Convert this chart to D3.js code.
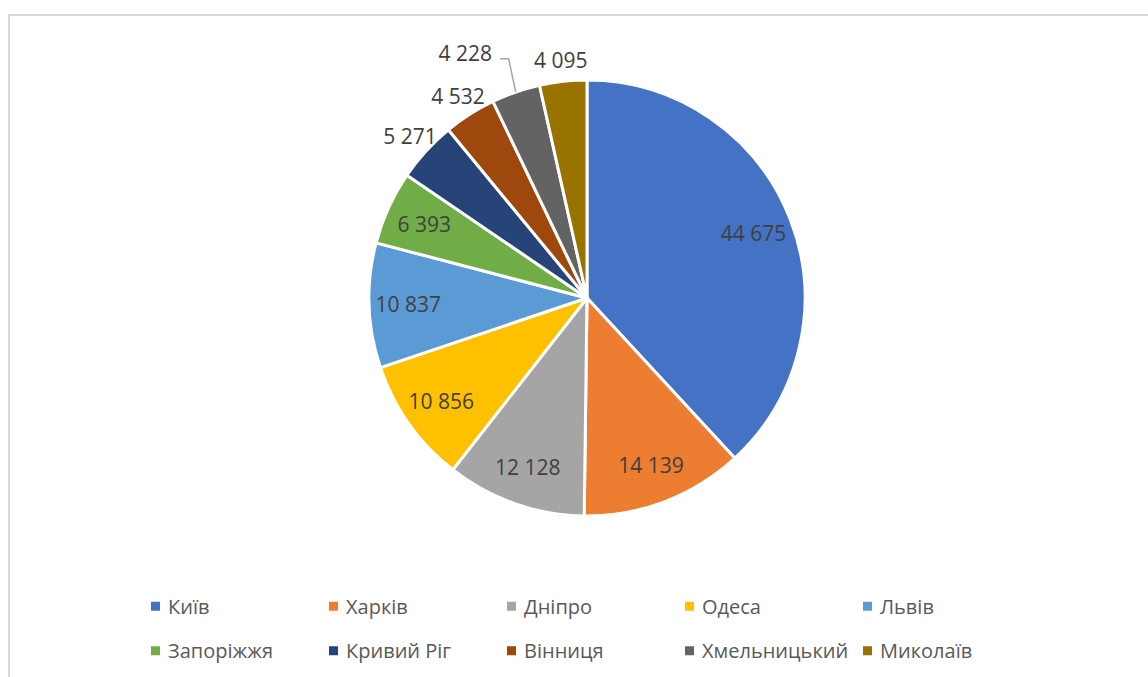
<!DOCTYPE html>
<html>
<head>
<meta charset="utf-8">
<script src="https://cdn.jsdelivr.net/npm/d3@7"></script>
<style>
  body { margin: 0; background: #fff; }
  svg text { font-family: "Open Sans", sans-serif; }
</style>
</head>
<body>
<svg id="chart" width="1148" height="677"></svg>
<script>
// city names and values
var cities = ["Київ", "Харків", "Дніпро", "Одеса", "Львів", "Запоріжжя", "Кривий Ріг", "Вінниця", "Хмельницький", "Миколаїв"];
var values = [44675, 14139, 12128, 10856, 10837, 6393, 5271, 4532, 4228, 4095];
var colors = ["#4472C4", "#ED7D31", "#A5A5A5", "#FFC000", "#5B9BD5", "#70AD47", "#264478", "#9E480E", "#636363", "#997300"];

var width = 1148, height = 677;
var cx = 587, cy = 298, radius = 218;

var svg = d3.select("#chart");

// light frame of the chart area
svg.append("rect")
    .attr("x", 9).attr("y", 15)
    .attr("width", 1300).attr("height", 900)
    .attr("fill", "none")
    .attr("stroke", "#d9d9d9")
    .attr("stroke-width", 2);

var data = cities.map(function(c, i) { return {name: c, value: values[i], color: colors[i]}; });

var pie = d3.pie().sort(null).value(function(d) { return d.value; });
var arcs = pie(data);

var arc = d3.arc().innerRadius(0).outerRadius(radius);
var labelArc = d3.arc().innerRadius(radius * 0.82).outerRadius(radius * 0.82);
var outerArc = d3.arc().innerRadius(radius * 1.1).outerRadius(radius * 1.1);
var edgeArc = d3.arc().innerRadius(radius).outerRadius(radius);

var fmt = function(v) { return d3.format(",")(v).replace(/,/g, " "); };

var g = svg.append("g").attr("transform", "translate(" + cx + "," + cy + ")");

g.selectAll("path.slice")
    .data(arcs)
  .enter().append("path")
    .attr("class", "slice")
    .attr("d", arc)
    .attr("fill", function(d) { return d.data.color; })
    .attr("stroke", "#fff")
    .attr("stroke-width", 3)
    .attr("stroke-linejoin", "round");

// data labels
var fontSize = 21;
var labels = g.append("g");
var placed = [];
arcs.forEach(function(d) {
    var t = labels.append("text")
        .attr("font-size", fontSize)
        .attr("fill", "#404040")
        .attr("text-anchor", "middle")
        .attr("dominant-baseline", "central")
        .text(fmt(d.data.value));
    var w = t.node().getComputedTextLength();
    var angle = d.endAngle - d.startAngle;
    var inside = angle * radius * 0.82 > w + 6;
    var p = inside ? labelArc.centroid(d) : outerArc.centroid(d);
    d.lbl = {node: t, x: p[0], y: p[1], w: w, h: fontSize * 1.1, inside: inside, nx: p[0], ny: p[1]};
});

// resolve overlaps of the outside labels, walking back from the last slice
var outside = arcs.filter(function(d) { return !d.lbl.inside; }).reverse();
outside.forEach(function(d, i) {
    var L = d.lbl;
    if (i > 0) {
        var prev = outside[i - 1].lbl;
        var overlapX = Math.abs(L.x - prev.x) < (L.w + prev.w) / 2 + 4;
        var overlapY = Math.abs(L.y - prev.y) < (L.h + prev.h) / 2;
        if (overlapX && overlapY) {
            L.y = prev.y - 7;
            L.x = prev.x - prev.w / 2 - 42 - L.w / 2;
            L.moved = true;
        }
    }
});

arcs.forEach(function(d) {
    var L = d.lbl;
    L.node.attr("x", L.x).attr("y", L.y);
    if (L.moved) {
        var e = edgeArc.centroid(d);
        var ly = L.y + 6;
        labels.append("polyline")
            .attr("points", [[e[0], e[1]], [L.nx, ly], [L.x + L.w / 2 + 8, ly]].map(function(p) { return p.join(","); }).join(" "))
            .attr("fill", "none")
            .attr("stroke", "#a6a6a6")
            .attr("stroke-width", 1.5);
    }
});

// legend
var cols = 5;
var legX = d3.scaleBand().domain(d3.range(cols)).range([151, 151 + cols * 178]);
var legY = d3.scaleBand().domain([0, 1]).range([584, 673]);

var legend = svg.append("g").selectAll("g")
    .data(data)
  .enter().append("g")
    .attr("transform", function(d, i) {
        return "translate(" + legX(i % cols) + "," + (legY(Math.floor(i / cols)) + legY.bandwidth() / 2) + ")";
    });

legend.append("rect")
    .attr("x", 0).attr("y", -4.5)
    .attr("width", 9).attr("height", 9)
    .attr("fill", function(d) { return d.color; });

legend.append("text")
    .attr("x", 17)
    .attr("dominant-baseline", "central")
    .attr("font-size", 20)
    .attr("fill", "#595959")
    .text(function(d) { return d.name; });
</script>
</body>
</html>
